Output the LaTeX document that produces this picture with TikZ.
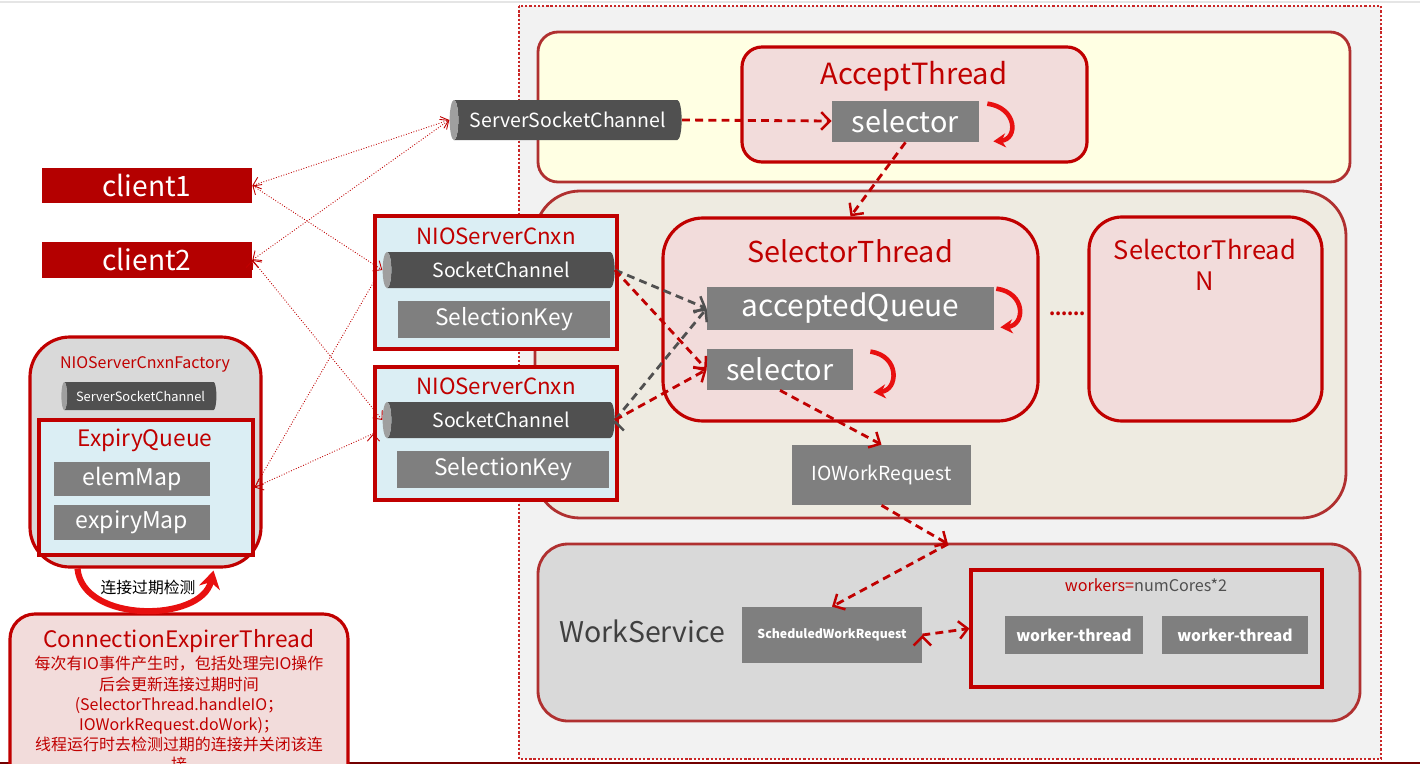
\documentclass[tikz,border=0pt]{standalone}
\usepackage{fontspec}
\setmainfont{Noto Sans CJK SC}
\usetikzlibrary{arrows.meta,shapes.geometric,positioning,calc}
\definecolor{dred}{HTML}{C00000}
\definecolor{bred}{HTML}{B03030}
\definecolor{cred}{HTML}{B40000}
\definecolor{spinred}{HTML}{E81010}
\definecolor{pink}{HTML}{F2DCDB}
\definecolor{lblue}{HTML}{DBEEF4}
\definecolor{lyel}{HTML}{FFFFE3}
\definecolor{beige}{HTML}{EEEBE1}
\definecolor{lgray}{HTML}{D9D9D9}
\definecolor{bgray}{HTML}{F2F2F2}
\definecolor{mgray}{HTML}{7F7F7F}
\definecolor{dgray}{HTML}{505050}
\definecolor{wsgray}{HTML}{404040}

\begin{document}
\begin{tikzpicture}[x=0.02cm,y=-0.02cm,
    sz/.style 2 args={minimum width=#1*0.02cm,minimum height=#2*0.02cm},
    csz/.style 2 args={minimum height=#1*0.02cm,minimum width=#2*0.02cm},
    fs/.style={font=\fontsize{#1}{#1}\selectfont},
    outer/.style={draw=dred!85,fill=bgray,line width=1.5pt,dash pattern=on 1.3pt off 1.1pt},
    area/.style={draw=bred,line width=1.6pt},
    thread/.style={draw=dred,fill=pink,line width=1.8pt},
    cnxn/.style={draw=dred,fill=lblue,line width=1.8pt},
    item/.style={fill=mgray,text=white,inner sep=0pt},
    chan/.style={cylinder,shape border rotate=180,shape aspect=.55,cylinder uses custom fill,
        cylinder body fill=dgray,cylinder end fill=gray!75,text=white,inner sep=0pt},
    client/.style={fill=cred,text=white,inner sep=0pt},
    title/.style={text=dred},
    flow/.style={draw=dred,line width=1.6pt,dash pattern=on 4.5pt off 3pt,
        -{Straight Barb[length=5pt,width=10pt,line width=1.4pt]}},
    flowg/.style={flow,draw=dgray},
    link/.style={draw=dred,line width=0.5pt,densely dotted,
        {Straight Barb[length=4pt,width=7pt]}-{Straight Barb[length=4pt,width=7pt]}},
    linkto/.style={link,-{Straight Barb[length=4pt,width=7pt]}},
    spin/.style={draw=spinred,line width=2.6pt,-{Stealth[length=7pt,width=8pt]}}]
\useasboundingbox (0,0) rectangle (1420,764);
\fill[white] (0,0) rectangle (1420,764);
\clip (0,0) rectangle (1420,764);
\draw[gray!20,line width=1pt] (0,2) -- (1420,2);
\draw[dred!60!black,line width=1pt] (0,763) -- (1420,763);

\draw[outer] (519,6) rectangle (1381,759);
\draw[area,fill=lyel,rounded corners=0.4cm] (538,32) rectangle (1350,182);
\draw[area,fill=beige,rounded corners=0.9cm] (535,191) rectangle (1346,518);
\draw[area,fill=lgray,rounded corners=0.6cm] (538,544) rectangle (1360,721);
\coordinate (hop) at (948,544);

\node[thread,sz={345}{115},rounded corners=0.4cm] (acc) at (914.5,104.5) {};
\node[title,fs=16.6] (accT) at (914,76) {AcceptThread};
\node[item,sz={147}{41},fs=16.4] (acSel) at (905.5,121.5) {selector};
\node[chan,csz={232}{40},fs=11.1] (ssc) at (568,120) {ServerSocketChannel};

\node[thread,sz={375}{203},rounded corners=0.8cm] (selT) at (850.5,319.5) {};
\node[title,fs=16.4] (selTT) at (850,251) {SelectorThread};
\node[item,sz={287}{43},fs=17] (aq) at (850.5,308.5) {acceptedQueue};
\node[item,sz={146}{41},fs=16.4] (sel) at (780,369.5) {selector};
\node[thread,sz={233}{204},rounded corners=0.66cm] (selN) at (1205.5,319) {};
\node[title,font=\fontsize{14.5}{17.6}\selectfont,align=center] (selNT) at (1205,265) {SelectorThread\\N};
\node[title,font=\bfseries\fontsize{10}{10}\selectfont,anchor=base] (dots) at (1067.5,315) {......};
\node[item,sz={179}{60},fs=11] (iowr) at (881.5,475) {IOWorkRequest};

\node[cnxn,sz={242}{133}] (cx1) at (496,282.5) {};
\node[title,fs=12.7] (cx1T) at (496,236) {NIOServerCnxn};
\node[chan,csz={232}{36},fs=11.1] (sc1) at (501,270) {SocketChannel};
\node[item,sz={212}{37},fs=12.9] (sk1) at (504,319.5) {SelectionKey};
\node[cnxn,sz={242}{133}] (cx2) at (496,433.5) {};
\node[title,fs=12.7] (cx2T) at (496,386) {NIOServerCnxn};
\node[chan,csz={232}{36},fs=11.1] (sc2) at (501,420) {SocketChannel};
\node[item,sz={212}{37},fs=12.9] (sk2) at (503,469.5) {SelectionKey};

\node[client,sz={210}{35},fs=16] (c1) at (147,185.5) {client1};
\node[client,sz={210}{36},fs=16,on grid] (c2) [below=1.49cm of c1] {client2};

\node[thread,fill=lgray,sz={231}{230},rounded corners=0.8cm] (fac) at (145.5,452) {};
\node[title,fs=9.1] (facT) at (145,364) {NIOServerCnxnFactory};
\node[chan,csz={155}{28},fs=7.3] (sscF) at (140.5,396) {ServerSocketChannel};
\node[cnxn,sz={214}{135}] (eq) at (146,487.5) {};
\node[title,fs=12.9] (eqT) at (145,440) {ExpiryQueue};
\node[item,sz={156}{34},fs=13.1] (elem) at (132,479) {elemMap};
\node[item,sz={156}{35},fs=13.1] (expm) at (132,522.5) {expiryMap};
\node[fs=9] (chk) at (148,587) {连接过期检测};

\node[thread,sz={338}{190},rounded corners=0.5cm] (cet) at (179,709) {};
\node[title,fs=12.9] (cetT) at (179,641) {ConnectionExpirerThread};
\node[title,font=\fontsize{9.1}{11.5}\selectfont,align=center,anchor=north,inner sep=0pt] (cetB) at (179,656)
    {每次有IO事件产生时，包括处理完IO操作\\后会更新连接过期时间\\(SelectorThread.handleIO；\\IOWorkRequest.doWork)；\\线程运行时去检测过期的连接并关闭该连\\接};

\node[fs=16.2,text=wsgray] (wsT) at (642,631) {WorkService};
\node[item,sz={180}{56},font=\bfseries\fontsize{7}{7}\selectfont] (swr) at (832,635) {ScheduledWorkRequest};
\node[draw=dred,line width=1.8pt,sz={351}{117}] (wk) at (1146.5,628.5) {};
\node[fs=9.2,text=dgray] (wkT) at (1146,585) {\textcolor{dred}{workers=}numCores*2};
\node[item,sz={138}{38},font=\bfseries\fontsize{8.9}{8.9}\selectfont] (wt1) at (1074,635) {worker-thread};
\node[item,sz={146}{38},font=\bfseries\fontsize{8.9}{8.9}\selectfont] (wt2) at (1235,635) {worker-thread};

\draw[spin] ($(acSel.north east)+(8,3)$) .. controls +(30,4) and +(25,-2) .. ($(acSel.south east)+(14,-1)$);
\draw[spin] ($(aq.north east)+(2,2)$) .. controls +(30,4) and +(25,-2) .. ($(aq.south east)+(6,-3)$);
\draw[spin] ($(sel.north east)+(17,3)$) .. controls +(30,4) and +(25,-2) .. ($(sel.south east)+(20,2)$);
\draw[spin,line width=3.5pt,-{Stealth[length=10pt,width=12pt]}] ($(fac.south)+(-68,0)$) .. controls +(5,55) and +(-12,52) .. ($(fac.south)+(68,2)$);

\path[flowg]
    (sc1.east) edge (aq.west)
    (sc2.east) edge (aq.west);
\path[flow]
    (ssc.east) edge (acSel)
    (acSel.south) edge (selT.north)
    (sc1.east) edge (sel.west)
    (sc2.east) edge (sel.west)
    (sel.south) edge (iowr.north)
    (iowr.south) edge (hop)
    (hop) edge (swr.north)
    (swr.east) edge (wk.west);
\path[link]
    (c1.east) edge (ssc.west)
    (c1.east) edge (sc1.west)
    (c2.east) edge (ssc.west)
    (c2.east) edge (sc2.west);
\path[linkto]
    (cx1.west) edge (eq.east)
    (cx2.west) edge (eq.east);
\end{tikzpicture}
\end{document}
